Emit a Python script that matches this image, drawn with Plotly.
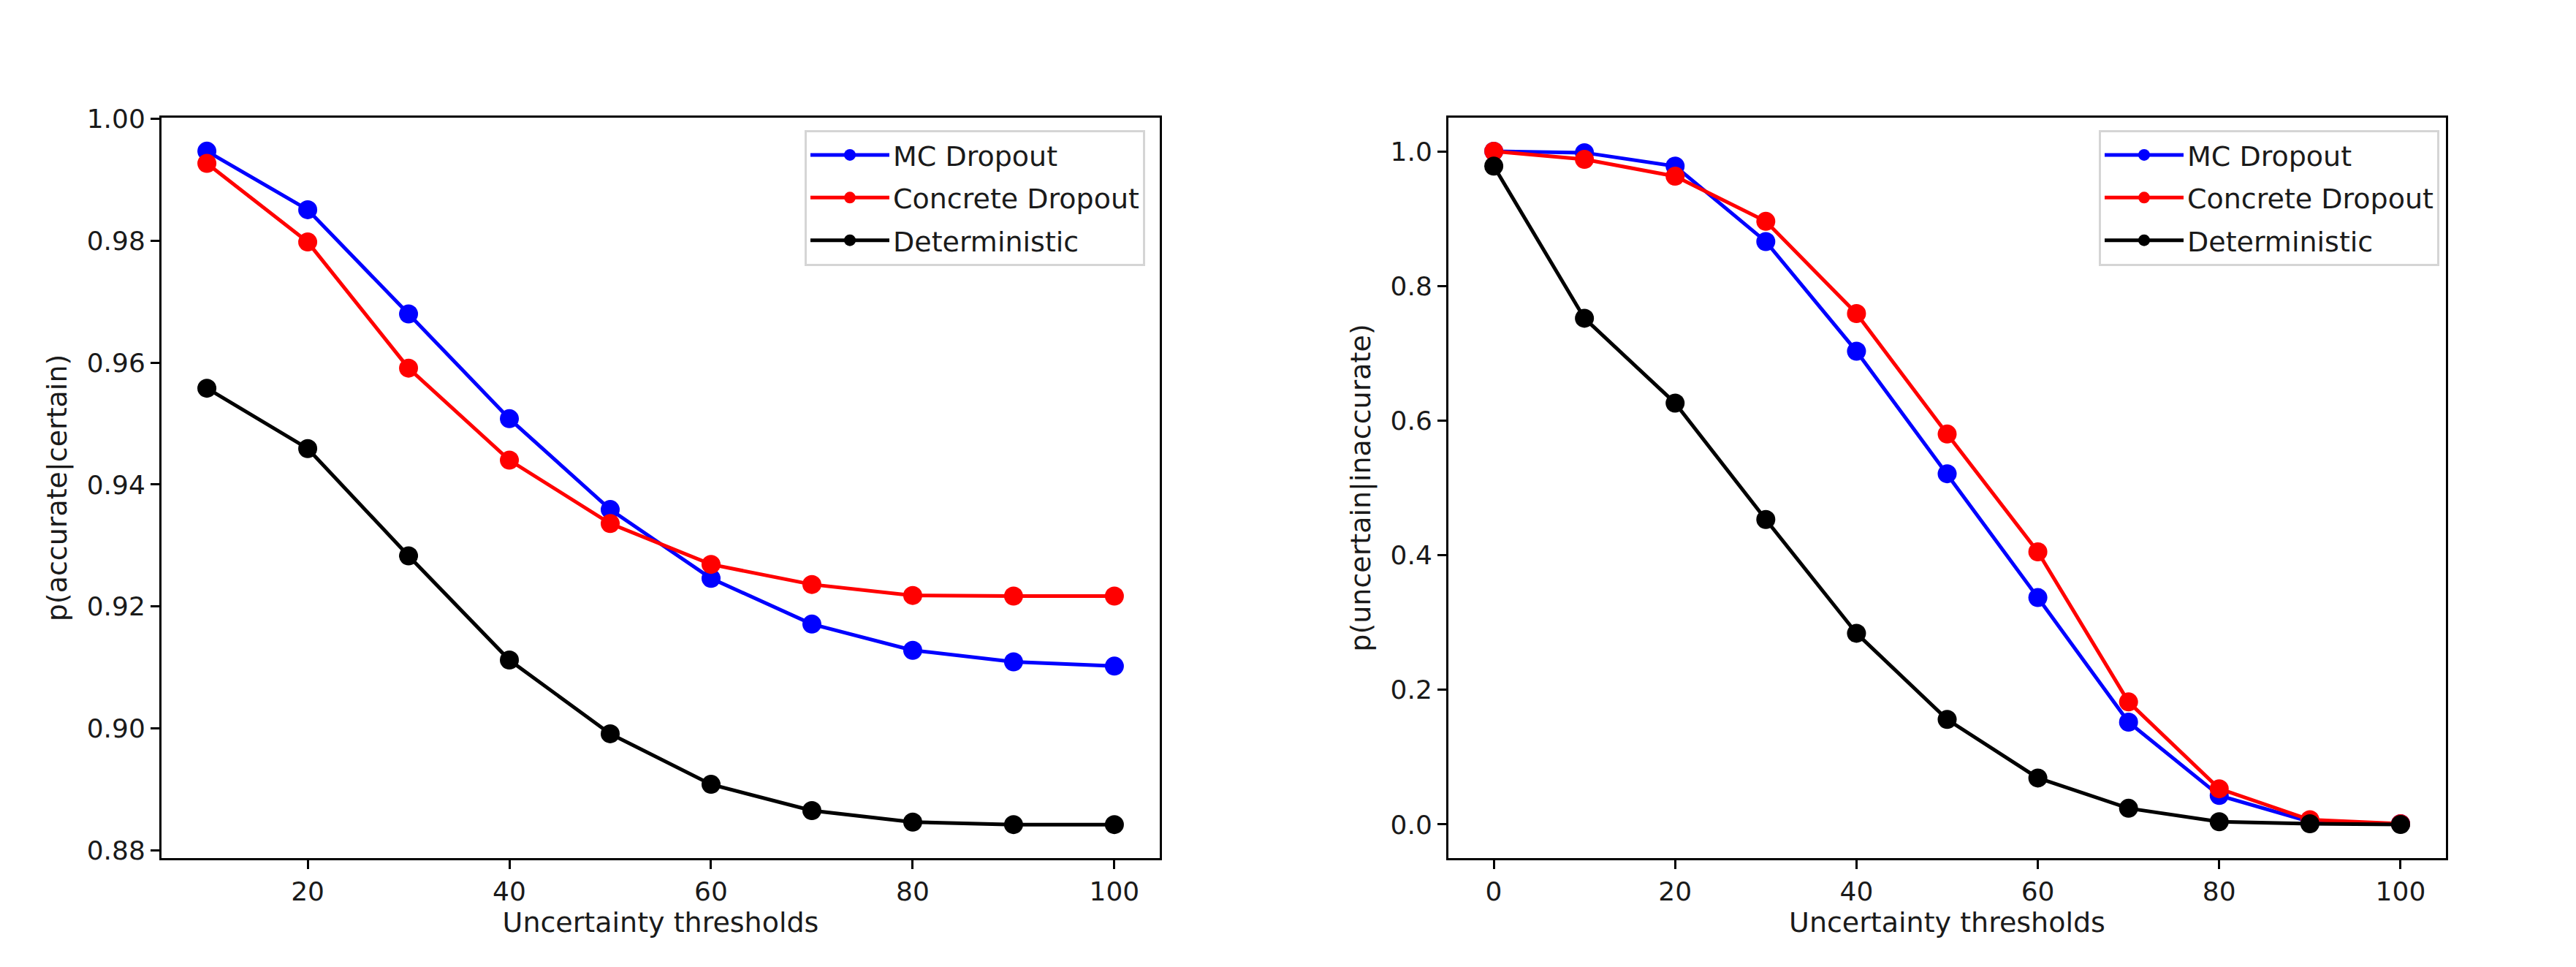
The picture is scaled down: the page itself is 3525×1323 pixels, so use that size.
import plotly.graph_objects as go

# ---- data ----
thr_left = [10, 20, 30, 40, 50, 60, 70, 80, 90, 100]
mc_left = [0.9947, 0.9851, 0.9680, 0.9508, 0.9359, 0.9246, 0.9171, 0.9128, 0.9109, 0.9102]
concrete_left = [0.9927, 0.9798, 0.9591, 0.9440, 0.9336, 0.9269, 0.9236, 0.9218, 0.9217, 0.9217]
determ_left = [0.9558, 0.9459, 0.9283, 0.9112, 0.8991, 0.8908, 0.8865, 0.8846, 0.8842, 0.8842]

thr_right = [0, 10, 20, 30, 40, 50, 60, 70, 80, 90, 100]
mc_right = [1.000, 0.998, 0.978, 0.866, 0.703, 0.521, 0.337, 0.152, 0.043, 0.004, 0.001]
concrete_right = [1.000, 0.988, 0.963, 0.896, 0.759, 0.580, 0.405, 0.182, 0.053, 0.007, 0.001]
determ_right = [0.978, 0.752, 0.626, 0.453, 0.284, 0.156, 0.069, 0.024, 0.004, 0.001, 0.000]

series_names = ["MC Dropout", "Concrete Dropout", "Deterministic"]
series_colors = ["#0000ff", "#ff0000", "#000000"]

left_ticks_y = [0.88, 0.90, 0.92, 0.94, 0.96, 0.98, 1.00]
right_ticks_y = [0.0, 0.2, 0.4, 0.6, 0.8, 1.0]
left_ticks_x = [20, 40, 60, 80, 100]
right_ticks_x = [0, 20, 40, 60, 80, 100]

FONT = "DejaVu Sans"
TICK_FS = 36
LABEL_FS = 38
LEGEND_FS = 38
TEXT_COLOR = "#1a1a1a"

fig = go.Figure()

for i, (name, color, ys) in enumerate(zip(series_names, series_colors, [mc_left, concrete_left, determ_left])):
    fig.add_trace(go.Scatter(
        x=thr_left, y=ys, name=name, mode="lines+markers",
        line=dict(color=color, width=5),
        marker=dict(color=color, size=26),
        xaxis="x", yaxis="y", legend="legend", legendgroup=f"l{i}",
    ))

for i, (name, color, ys) in enumerate(zip(series_names, series_colors, [mc_right, concrete_right, determ_right])):
    fig.add_trace(go.Scatter(
        x=thr_right, y=ys, name=name, mode="lines+markers",
        line=dict(color=color, width=5),
        marker=dict(color=color, size=26),
        xaxis="x2", yaxis="y2", legend="legend2", legendgroup=f"r{i}",
    ))

axis_common = dict(
    showline=True, linecolor="black", linewidth=3, mirror=True,
    ticks="outside", ticklen=12, tickwidth=3, tickcolor="black",
    showgrid=False, zeroline=False,
    tickfont=dict(family=FONT, size=TICK_FS, color=TEXT_COLOR),
)
title_font = dict(family=FONT, size=LABEL_FS, color=TEXT_COLOR)

legend_common = dict(
    font=dict(family=FONT, size=LEGEND_FS, color=TEXT_COLOR),
    bgcolor="white", bordercolor="#d5d5d5", borderwidth=3,
    xanchor="right", yanchor="top",
    itemwidth=108, tracegroupgap=6,
)

fig.update_layout(
    width=3525, height=1323,
    paper_bgcolor="white", plot_bgcolor="white",
    margin=dict(l=221, r=178, t=161, b=149),
    xaxis=dict(domain=[0, 0.43698], range=[5.5, 104.5], tickvals=left_ticks_x,
               title=dict(text="Uncertainty thresholds", font=title_font, standoff=8),
               anchor="y", **axis_common),
    yaxis=dict(domain=[0, 1], range=[0.8787, 1.0002], tickvals=left_ticks_y, tickformat=".2f",
               title=dict(text="p(accurate|certain)", font=title_font, standoff=16),
               anchor="x", **axis_common),
    xaxis2=dict(domain=[0.56334, 1], range=[-5, 105], tickvals=right_ticks_x,
                title=dict(text="Uncertainty thresholds", font=title_font, standoff=8),
                anchor="y2", **axis_common),
    yaxis2=dict(domain=[0, 1], range=[-0.05, 1.05], tickvals=right_ticks_y, tickformat=".1f",
                title=dict(text="p(uncertain|inaccurate)", font=title_font, standoff=16),
                anchor="x2", **axis_common),
    legend=dict(x=0.43058, y=0.9835, **legend_common),
    legend2=dict(x=0.99712, y=0.9835, **legend_common),
)

fig.write_html(
    "out.html",
    config={"displayModeBar": False},
    post_script="document.body.style.margin='0';document.body.style.overflow='hidden';",
)
